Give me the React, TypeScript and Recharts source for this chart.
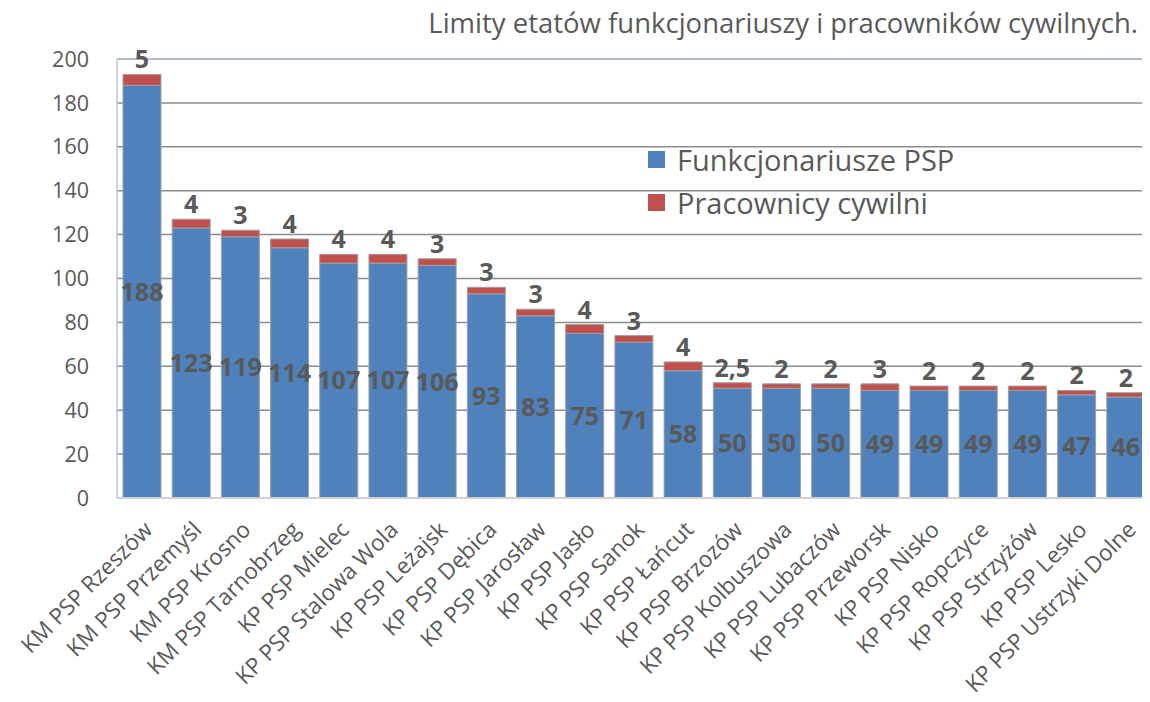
import { BarChart, Bar, XAxis, YAxis, CartesianGrid, LabelList, ReferenceLine } from 'recharts'

const units = [
    'KM PSP Rzeszów',
    'KM PSP Przemyśl',
    'KM PSP Krosno',
    'KM PSP Tarnobrzeg',
    'KP PSP Mielec',
    'KP PSP Stalowa Wola',
    'KP PSP Leżajsk',
    'KP PSP Dębica',
    'KP PSP Jarosław',
    'KP PSP Jasło',
    'KP PSP Sanok',
    'KP PSP Łańcut',
    'KP PSP Brzozów',
    'KP PSP Kolbuszowa',
    'KP PSP Lubaczów',
    'KP PSP Przeworsk',
    'KP PSP Nisko',
    'KP PSP Ropczyce',
    'KP PSP Strzyżów',
    'KP PSP Lesko',
    'KP PSP Ustrzyki Dolne',
]
const officers = [188, 123, 119, 114, 107, 107, 106, 93, 83, 75, 71, 58, 50, 50, 50, 49, 49, 49, 49, 47, 46]
const civilians = [5, 4, 3, 4, 4, 4, 3, 3, 3, 4, 3, 4, 2.5, 2, 2, 3, 2, 2, 2, 2, 2]
const yTicks = [0, 20, 40, 60, 80, 100, 120, 140, 160, 180, 200]

const data = units.map((name, i) => ({
    name,
    officers: officers[i],
    civilians: civilians[i],
}))

const FONT = '"Open Sans", sans-serif'
const GREY = '#595959'

function RotatedTick(props: any) {
    const { x, y, payload } = props
    return (
        <g transform={`translate(${x + 1},${y + 14}) rotate(-45)`}>
            <text
                x={0}
                y={0}
                dy="0.7em"
                textAnchor="end"
                fontSize={22.5}
                fontFamily={FONT}
                fill={GREY}
            >
                {payload.value}
            </text>
        </g>
    )
}

const legendItems = [
    { label: 'Funkcjonariusze PSP', color: '#4F81BD' },
    { label: 'Pracownicy cywilni', color: '#C0504D' },
]

export default function App() {
    return (
        <div style={{ position: 'relative', width: 1150, height: 702, margin: -8, background: '#fff' }}>
            <div
                style={{
                    position: 'absolute',
                    right: 12,
                    top: 4,
                    fontFamily: FONT,
                    fontSize: 27.5,
                    color: GREY,
                    whiteSpace: 'nowrap',
                }}
            >
                Limity etatów funkcjonariuszy i pracowników cywilnych.
            </div>
            <BarChart
                width={1150}
                height={702}
                data={data}
                margin={{ top: 59, right: 0, left: 0, bottom: 0 }}
            >
                <CartesianGrid vertical={false} stroke="#8c8c8c" strokeWidth={1.5} />
                <ReferenceLine y={200} stroke="#b4c3da" strokeWidth={1.5} />
                <XAxis
                    dataKey="name"
                    interval={0}
                    height={204}
                    tick={<RotatedTick />}
                    tickLine={false}
                    axisLine={{ stroke: '#d0d0d0', strokeWidth: 2 }}
                />
                <YAxis
                    width={117}
                    domain={[0, 200]}
                    ticks={yTicks}
                    tickLine={false}
                    axisLine={{ stroke: '#b4c3da', strokeWidth: 1.5 }}
                    tick={{ fontSize: 21.5, fontFamily: FONT, fill: GREY }}
                    tickMargin={22}
                />
                <Bar
                    dataKey="officers"
                    stackId="a"
                    fill="#4F81BD"
                    stroke="#a0a0a0"
                    strokeWidth={1}
                    barSize={38}
                    isAnimationActive={false}
                >
                    <LabelList
                        dataKey="officers"
                        position="center"
                        fontSize={25}
                        fontWeight="bold"
                        fontFamily={FONT}
                        fill={GREY}
                    />
                </Bar>
                <Bar
                    dataKey="civilians"
                    stackId="a"
                    fill="#C0504D"
                    stroke="#a0a0a0"
                    strokeWidth={1}
                    barSize={38}
                    isAnimationActive={false}
                >
                    <LabelList
                        dataKey="civilians"
                        position="top"
                        offset={6}
                        fontSize={25}
                        fontWeight="bold"
                        fontFamily={FONT}
                        fill={GREY}
                        formatter={(v: any) => String(v).replace('.', ',')}
                    />
                </Bar>
            </BarChart>
            <div
                style={{
                    position: 'absolute',
                    left: 648,
                    top: 138,
                    fontFamily: FONT,
                    color: GREY,
                    fontSize: 29,
                }}
            >
                {legendItems.map((it) => (
                    <div
                        key={it.label}
                        style={{ display: 'flex', alignItems: 'center', height: 43, whiteSpace: 'nowrap' }}
                    >
                        <span
                            style={{
                                width: 17,
                                height: 17,
                                background: it.color,
                                display: 'inline-block',
                                marginRight: 12,
                            }}
                        />
                        {it.label}
                    </div>
                ))}
            </div>
        </div>
    )
}
